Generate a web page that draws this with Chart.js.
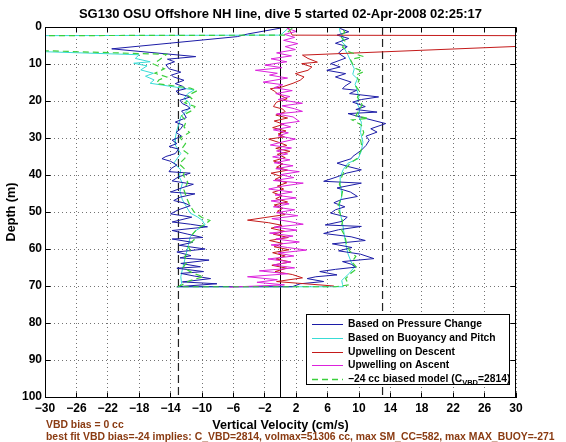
<!DOCTYPE html>
<html><head><meta charset="utf-8">
<script src="https://cdn.jsdelivr.net/npm/chart.js@4/dist/chart.umd.min.js"></script>
<style>html,body{margin:0;padding:0;background:#fff}#wrap{width:566px;height:442px}</style>
</head><body><div id="wrap"><canvas id="c" width="566" height="442"></canvas></div>
<script>
// ---------- text ----------
const titleText = 'SG130 OSU Offshore NH line, dive 5 started 02-Apr-2008 02:25:17';
const xTitle = 'Vertical Velocity (cm/s)';
const yTitle = 'Depth (m)';
const legendLabels = ['Based on Pressure Change','Based on Buoyancy and Pitch','Upwelling on Descent','Upwelling on Ascent'];
const modelLabelParts = ['\u221224 cc biased model (C','VBD','=2814)'];
const noteLines = ['VBD bias = 0 cc','best fit VBD bias=-24 implies: C_VBD=2814, volmax=51306 cc, max SM_CC=582, max MAX_BUOY=-271'];

// ---------- ticks ----------
const xTickValues = [-30,-26,-22,-18,-14,-10,-6,-2,2,6,10,14,18,22,26,30];
const yTickValues = [0,10,20,30,40,50,60,70,80,90,100];
const biasLines = [-13, 13];
const zeroLine = [0];

// ---------- Based on Pressure Change ----------
const pressureDescDepth = [0.3,1.9,2.6,5.9,8.0,8.7,9.4,10.2,11.3,12.2,13.0,13.5,14.4,15.3,16.0,16.7,17.3,18.0,18.9,19.8,20.7,21.3,22.0,22.7,23.4,24.5,25.7,26.5,27.5,28.5,29.5,30.6,31.5,32.3,33.0,34.2,35.0,35.6,36.3,37.3,38.2,39.1,39.5,40.5,41.6,42.5,43.5,44.6,45.1,46.0,46.9,47.6,48.3,49.4,50.5,51.4,52.7,53.3,54.0,55.0,56.0,56.9,57.3,58.2,59.0,60.0,60.8,61.8,62.4,63.0,63.9,64.8,65.2,66.1,66.6,67.3,68.0,68.9,69.4,70.2];
const pressureDescVel = [0.0,-4.2,-5.5,-21.5,-10.8,-14.4,-13.5,-14.6,-14.2,-12.7,-13.9,-13.6,-12.3,-13.4,-12.5,-12.1,-13.3,-13.0,-11.5,-12.8,-12.5,-11.9,-11.5,-12.6,-12.3,-12.0,-13.4,-12.4,-12.7,-13.3,-12.6,-13.8,-13.2,-14.2,-13.0,-13.4,-14.6,-15.1,-14.0,-13.2,-13.9,-14.2,-11.5,-13.0,-13.8,-11.1,-12.6,-14.0,-10.9,-12.8,-13.6,-12.2,-11.5,-13.0,-14.0,-11.3,-13.8,-11.5,-9.3,-13.8,-11.8,-9.9,-13.8,-11.2,-12.9,-9.6,-13.2,-11.4,-12.8,-9.1,-12.7,-10.2,-13.2,-9.8,-12.7,-11.0,-8.9,-12.5,-8.1,-13.2];
const pressureAscDepth = [0.4,1.3,2.2,3.1,4.4,5.3,6.2,7.1,8.4,9.9,10.8,11.7,12.6,13.5,14.9,16.0,16.7,17.1,18.0,18.9,19.6,20.3,21.5,22.3,23.0,23.4,24.8,26.1,27.5,28.4,29.5,30.6,32.0,33.3,35.0,35.6,36.8,37.7,38.6,39.5,40.5,41.7,42.2,43.5,44.6,45.8,46.6,47.5,48.6,49.4,50.3,51.4,52.5,53.5,53.9,54.8,55.8,56.7,57.7,58.6,59.6,60.5,61.4,62.6,63.4,64.1,64.9,65.5,66.1,67.0,67.5,68.0,68.8,69.4,70.2];
const pressureAscVel = [7.6,8.7,7.2,8.7,7.0,8.5,7.8,7.4,8.3,6.4,7.6,5.9,8.3,7.0,9.0,8.2,7.9,9.7,8.8,12.5,10.3,9.2,10.8,9.6,12.3,8.6,11.0,13.4,11.5,12.3,10.9,11.3,10.9,10.3,9.2,9.0,7.2,8.6,10.3,8.4,7.2,5.5,10.3,7.2,8.9,9.8,7.8,6.8,8.2,7.0,6.4,8.5,7.9,5.7,10.3,7.4,5.5,9.0,10.8,6.6,9.1,7.4,10.2,11.9,7.9,9.0,9.6,7.0,5.0,7.2,4.5,3.4,5.5,2.5,1.5];

// ---------- Based on Buoyancy and Pitch ----------
const buoyDescDepth = [0.3,2.2,2.6,7.5,8.5,9.4,9.8,10.5,11.6,12.5,13.3,14.3,15.2,16.2,17.0,18.0,19.3,20.5,21.5,22.8,24.2,26.0,27.8,30.0,31.9,34.2,36.8,38.6,40.5,42.2,44.5,46.7,48.5,50.3,51.3,52.2,53.5,54.9,56.7,58.5,60.3,62.0,63.9,65.5,67.5,69.3,70.2];
const buoyDescVel = [1.0,0.0,-90,-18.0,-18.5,-16.6,-18.7,-17.0,-17.8,-16.2,-17.2,-16.1,-16.6,-13.5,-11.0,-11.8,-12.3,-11.6,-11.5,-12.0,-12.7,-12.9,-13.2,-13.4,-13.4,-12.7,-13.6,-12.7,-12.9,-12.5,-12.8,-12.5,-12.0,-11.5,-10.6,-10.0,-9.6,-10.7,-11.5,-11.7,-11.9,-12.1,-12.3,-12.5,-12.7,-12.6,-13.0];
const buoyAscDepth = [0.3,1.4,2.8,4.0,5.2,6.0,7.6,9.5,11.3,12.8,14.0,15.5,16.7,19.0,20.5,22.1,24.0,25.7,28.5,31.1,33.5,35.6,36.8,38.5,40.5,43.0,45.8,48.0,50.3,53.0,55.8,58.5,61.3,63.5,64.9,66.5,68.5,69.6,70.2];
const buoyAscVel = [7.5,7.6,8.0,7.8,8.4,8.2,8.6,9.0,9.4,9.2,9.8,9.5,9.7,10.0,9.7,10.1,9.9,10.3,10.2,10.5,10.3,9.9,8.6,8.0,7.6,7.7,7.8,7.5,7.6,7.9,8.1,8.3,8.6,9.0,9.4,8.8,7.8,7.9,8.0];

// ---------- Upwelling on Descent ----------
const upDescDepth = [0.3,2.2,2.5,7.6,8.5,9.5,9.9,10.8,11.7,12.6,13.5,14.4,15.2,16.2,16.7,17.3,18.0,18.7,19.4,20.3,21.5,22.2,22.9,23.8,24.6,25.4,26.3,27.2,28.1,28.9,29.7,30.3,31.2,32.0,32.8,33.6,34.4,35.3,36.2,37.0,37.9,38.7,39.5,40.4,41.2,42.1,43.0,43.8,44.7,45.6,46.4,47.3,48.1,49.0,49.8,50.7,51.5,52.2,52.9,53.6,54.4,55.2,56.0,56.9,57.7,58.5,59.4,60.2,61.0,61.9,62.7,63.5,64.4,65.2,66.1,66.9,67.8,68.8,70.0];
const upDescVel = [1.0,1.5,62,2.8,3.5,4.7,2.7,4.0,3.5,1.9,3.0,2.5,1.6,0.2,-1.3,-0.8,-0.4,0.2,0.85,-0.5,-0.9,0.3,0.6,-0.6,0.9,-0.8,0.4,-1.0,0.7,-0.3,0.5,-1.5,-0.2,0.8,-0.6,1.2,-0.4,0.6,-0.9,0.3,-0.5,0.9,-1.2,0.1,-0.7,0.8,-0.4,0.4,-1.0,0.2,-0.6,0.9,-0.8,0.3,-0.4,0.6,-2.0,-4.2,-1.5,0.2,-1.2,0.5,-0.9,1.0,-1.4,0.3,-0.8,1.1,-1.0,0.6,-0.6,1.3,-1.1,0.8,-0.7,1.5,2.8,-0.5,6.8];

// ---------- Upwelling on Ascent ----------
const upAscDepth = [0.3,1.2,2.0,2.8,3.6,4.5,5.3,6.1,7.0,7.8,8.6,9.4,10.3,11.0,11.7,12.5,13.0,13.8,14.9,15.6,16.4,17.2,18.0,18.8,19.6,20.6,21.3,22.1,22.8,23.5,24.3,25.5,26.2,27.0,27.8,28.6,29.4,30.3,31.1,31.9,32.7,33.5,34.3,35.1,35.9,36.7,37.5,38.3,39.1,39.9,40.7,41.5,42.2,43.0,43.8,44.6,45.4,46.2,47.0,47.8,48.6,49.4,50.2,51.0,51.8,52.6,53.3,54.1,54.9,55.7,56.5,57.3,58.1,58.9,59.6,60.3,61.1,61.9,62.7,63.5,64.3,65.1,65.9,66.7,67.5,68.3,69.0,69.7,70.3];
const upAscVel = [0.8,2.0,0.5,1.8,0.4,2.2,0.6,1.9,-0.5,1.4,-1.2,0.8,-2.0,0.2,-3.2,-0.4,-1.4,0.9,-2.2,0.3,-0.8,1.5,-0.6,1.2,-0.3,2.8,0.2,1.8,2.8,-0.5,1.6,2.4,0.0,1.3,-0.9,1.0,-0.3,1.9,0.2,-1.3,1.4,-0.5,0.9,-1.0,1.2,-0.8,1.6,-0.6,2.4,0.0,1.7,-0.9,2.9,0.3,-1.5,1.5,-0.7,2.0,-1.2,1.1,-0.9,1.8,-0.5,2.2,-1.1,1.2,2.9,-0.8,2.1,-1.4,1.6,-0.6,2.4,-1.2,0.9,3.3,-0.3,1.7,-1.6,1.3,-0.9,1.8,-2.7,0.9,-4.2,-0.4,-3.0,0.5,-6.5];

// ---------- -24 cc biased model ----------
const modelDescDepth = [0.3,2.2,2.6,7.4,9.0,10.0,11.3,12.5,13.5,14.3,15.3,16.5,17.2,18.5,19.3,20.5,21.5,22.5,24.0,25.5,27.0,28.5,30.0,31.5,33.0,34.2,35.5,37.0,38.6,40.0,42.0,44.0,46.0,48.0,50.0,51.5,52.3,53.3,54.5,56.0,57.5,59.0,60.5,62.0,63.5,65.0,66.5,67.5,68.5,69.3,70.2];
const modelDescVel = [1.5,0.5,-90,-14.5,-15.5,-16.2,-14.8,-16.0,-14.5,-15.5,-15.8,-11.5,-10.6,-11.8,-11.3,-12.2,-10.9,-11.2,-12.6,-12.0,-12.3,-11.6,-12.8,-12.1,-12.6,-11.8,-12.2,-12.9,-12.1,-12.4,-11.8,-12.3,-12.0,-11.6,-11.0,-10.0,-9.0,-9.6,-10.6,-11.2,-11.0,-11.8,-11.5,-12.2,-11.9,-12.4,-11.2,-9.8,-11.5,-12.2,-13.0];
const modelAscDepth = [0.3,1.4,2.5,4.0,5.5,6.8,8.0,8.8,10.0,11.2,12.1,13.0,14.5,16.0,17.5,19.0,21.0,22.5,24.0,24.7,25.1,26.5,28.5,30.5,32.7,34.5,35.5,36.8,38.5,40.5,42.5,44.5,46.5,48.5,50.5,52.6,54.5,56.5,58.5,60.5,62.0,63.5,65.2,66.5,68.0,69.7,70.2];
const modelAscVel = [7.8,8.2,7.6,8.3,7.9,8.8,10.6,8.9,9.2,9.6,10.6,9.6,10.0,9.6,10.1,9.8,10.4,10.0,9.6,11.2,9.1,10.3,10.6,10.2,10.4,10.0,9.8,8.9,8.2,7.8,7.5,7.9,7.7,7.3,7.6,7.9,7.7,8.2,8.4,8.8,9.6,9.1,9.8,9.0,8.3,8.7,7.0];

// ---------- colours ----------
const C_BLUE = '#1c1ca6', C_CYAN = '#38dcd6', C_RED = '#c41a1a', C_MAG = '#dc22dc', C_GREEN = '#3ccf3c', C_NOTE = '#8a3b12';
const FONT = '"Liberation Sans", Arial, Helvetica, sans-serif';

function pts(depths, vels) {
  const n = Math.min(depths.length, vels.length), out = [];
  for (let i = 0; i < n; i++) out.push({x: vels[i], y: depths[i]});
  return out;
}
function dive(dD, dV, aD, aV) { return pts(dD, dV).concat(pts(aD, aV).reverse()); }
function fmt(v) { return v < 0 ? '\u2212' + Math.abs(v) : String(v); }
function line(data, color, order, extra) {
  return Object.assign({data, borderColor: color, backgroundColor: color, borderWidth: 1, pointRadius: 0,
    showLine: true, tension: 0, fill: false, order}, extra || {});
}

const datasets = [];
zeroLine.forEach(v => datasets.push(line([{x:v,y:0},{x:v,y:100}], '#000', 10)));
biasLines.forEach(v => datasets.push(line([{x:v,y:0},{x:v,y:100}], '#222', 10, {borderDash:[8,4], borderWidth:1.2})));
datasets.push(line(dive(buoyDescDepth, buoyDescVel, buoyAscDepth, buoyAscVel), C_CYAN, 6));
datasets.push(line(dive(pressureDescDepth, pressureDescVel, pressureAscDepth, pressureAscVel), C_BLUE, 5));
datasets.push(line(pts(upDescDepth, upDescVel), C_RED, 4));
datasets.push(line(pts(upAscDepth, upAscVel), C_MAG, 3));
datasets.push(line(dive(modelDescDepth, modelDescVel, modelAscDepth, modelAscVel), C_GREEN, 2, {borderDash:[6,4], borderWidth:1.2}));

const decor = {
  id: 'decor',
  afterDraw(chart) {
    const {ctx, chartArea: a, scales: {x, y}} = chart;
    const L = Math.floor(a.left) + 0.5, R = Math.floor(a.right) - 0.5, T = Math.floor(a.top) + 0.5, B = Math.floor(a.bottom) + 0.5;
    ctx.save();
    // title
    ctx.fillStyle = '#000'; ctx.font = 'bold 13px ' + FONT; ctx.textAlign = 'center'; ctx.textBaseline = 'middle';
    ctx.fillText(titleText, (a.left + a.right) / 2, 14.5);
    ctx.strokeStyle = '#000'; ctx.lineWidth = 1; ctx.setLineDash([]);
    ctx.beginPath();
    xTickValues.forEach(v => { const px = Math.floor(x.getPixelForValue(v)) + 0.5;
      ctx.moveTo(px, T); ctx.lineTo(px, T + 5); ctx.moveTo(px, B); ctx.lineTo(px, B - 5); });
    yTickValues.forEach(v => { const py = Math.floor(y.getPixelForValue(v)) + 0.5;
      ctx.moveTo(L, py); ctx.lineTo(L + 5, py); ctx.moveTo(R, py); ctx.lineTo(R - 5, py); });
    ctx.stroke();
    ctx.strokeRect(L, T, R - L, B - T);

    // legend
    const bx = 306.5, by = 314.5, bw = 203, bh = 70;
    ctx.fillStyle = '#fff'; ctx.fillRect(bx, by, bw, bh); ctx.strokeRect(bx, by, bw, bh);
    const cols = [C_BLUE, C_CYAN, C_RED, C_MAG, C_GREEN];
    ctx.font = 'bold 10.3px ' + FONT; ctx.textBaseline = 'middle'; ctx.textAlign = 'left';
    for (let i = 0; i < 5; i++) {
      const ly = Math.round(324 + i * 13.75) + 0.5;
      ctx.strokeStyle = cols[i]; ctx.lineWidth = i === 4 ? 1.3 : 1;
      ctx.setLineDash(i === 4 ? [6, 4] : []);
      ctx.beginPath(); ctx.moveTo(312, ly); ctx.lineTo(343, ly); ctx.stroke();
      ctx.setLineDash([]);
      ctx.fillStyle = '#000';
      if (i < 4) ctx.fillText(legendLabels[i], 348, ly);
      else {
        let tx = 348;
        ctx.font = 'bold 10.3px ' + FONT; ctx.fillText(modelLabelParts[0], tx, ly); tx += ctx.measureText(modelLabelParts[0]).width;
        ctx.font = 'bold 7.5px ' + FONT; ctx.fillText(modelLabelParts[1], tx, ly + 3.5); tx += ctx.measureText(modelLabelParts[1]).width;
        ctx.font = 'bold 10.3px ' + FONT; ctx.fillText(modelLabelParts[2], tx, ly);
      }
    }
    // notes
    ctx.fillStyle = C_NOTE; ctx.font = 'bold 10.4px ' + FONT; ctx.textBaseline = 'middle';
    ctx.fillText(noteLines[0], 46, 425);
    ctx.fillText(noteLines[1], 46, 437.5);
    ctx.restore();
  }
};

new Chart(document.getElementById('c').getContext('2d'), {
  type: 'scatter',
  data: {datasets},
  options: {
    responsive: false, animation: false, devicePixelRatio: 1,
    layout: {padding: {left: 0, right: 50, top: 27, bottom: 0}},
    plugins: {legend: {display: false}, tooltip: {enabled: false}, title: {display: false}},
    scales: {
      x: {
        type: 'linear', position: 'bottom', min: -30, max: 30,
        afterBuildTicks: s => { s.ticks = xTickValues.map(v => ({value: v})); },
        afterFit: s => { s.height = 45; },
        ticks: {autoSkip: false, maxRotation: 0, padding: 4, color: '#000', font: {family: FONT, size: 12, weight: 'bold'}, callback: v => fmt(v)},
        grid: {color: 'rgba(0,0,0,0.55)', lineWidth: 1, drawTicks: false},
        border: {display: true, color: '#000', width: 1, dash: [1, 3]},
        title: {display: true, text: xTitle, color: '#000', font: {family: FONT, size: 12.6, weight: 'bold'}, padding: {top: 0, bottom: 9}}
      },
      y: {
        type: 'linear', position: 'left', min: 0, max: 100, reverse: true,
        afterBuildTicks: s => { s.ticks = yTickValues.map(v => ({value: v})); },
        afterFit: s => { s.width = 45; },
        ticks: {autoSkip: false, padding: 3, color: '#000', font: {family: FONT, size: 12, weight: 'bold'}, callback: v => fmt(v)},
        grid: {color: 'rgba(0,0,0,0.55)', lineWidth: 1, drawTicks: false},
        border: {display: true, color: '#000', width: 1, dash: [1, 3]},
        title: {display: true, text: yTitle, color: '#000', font: {family: FONT, size: 12.6, weight: 'bold'}, padding: {top: 4, bottom: 0}}
      }
    }
  },
  plugins: [decor]
});
</script></body></html>
